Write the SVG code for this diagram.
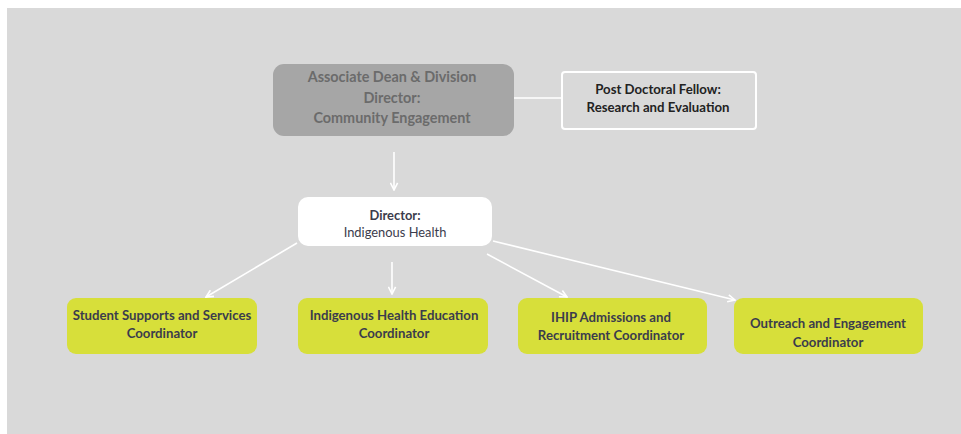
<svg xmlns="http://www.w3.org/2000/svg" width="961" height="434" viewBox="0 0 961 434">
<style>
.t{font-family:Lato,"Noto Sans",sans-serif;font-weight:bold;text-anchor:middle;dominant-baseline:central}
.y{fill:#d7df3a}
.yt{font-size:13.2px;fill:#3b3c4c}
.c{stroke:#ffffff;stroke-width:1.6;fill:none}
</style>
<defs>
<marker id="ah" viewBox="0 0 10 10" refX="9" refY="5" markerWidth="9" markerHeight="9" orient="auto" markerUnits="userSpaceOnUse">
<path d="M1,1 L9,5 L1,9" fill="none" stroke="#ffffff" stroke-width="1.8"/>
</marker>
</defs>
<rect x="0" y="0" width="961" height="434" fill="#ffffff"/>
<rect x="7" y="8" width="954" height="426" fill="#d9d9d9"/>
<g id="connectors">
<line class="c" x1="514" y1="98" x2="562" y2="98"/>
<line class="c" x1="394" y1="152" x2="394" y2="190" marker-end="url(#ah)"/>
<line class="c" x1="297" y1="243" x2="206" y2="297" marker-end="url(#ah)"/>
<line class="c" x1="392" y1="262" x2="392" y2="294" marker-end="url(#ah)"/>
<line class="c" x1="487" y1="254" x2="567" y2="297" marker-end="url(#ah)"/>
<line class="c" x1="493" y1="241" x2="735" y2="300" marker-end="url(#ah)"/>
</g>
<g id="assoc-dean">
<rect x="273" y="64" width="241" height="72" rx="11" fill="#a6a6a6"/>
<text class="t" x="392" y="76" font-size="14.4" fill="#6b6b6b">Associate Dean &amp; Division</text>
<text class="t" x="392" y="97" font-size="14.4" fill="#6b6b6b">Director:</text>
<text class="t" x="392" y="117" font-size="14.4" fill="#6b6b6b">Community Engagement</text>
</g>
<g id="postdoc">
<rect x="562" y="72" width="194" height="57" rx="3" fill="#d9d9d9" stroke="#ffffff" stroke-width="2"/>
<text class="t" x="658" y="89" font-size="13.2" fill="#222222">Post Doctoral Fellow:</text>
<text class="t" x="658" y="107" font-size="13.2" fill="#222222">Research and Evaluation</text>
</g>
<g id="director">
<rect x="298" y="197" width="194" height="49" rx="10" fill="#ffffff"/>
<text class="t" x="395" y="215" font-size="12.9" fill="#3b3c4c">Director:</text>
<text class="t" x="395" y="232" font-size="12.9" fill="#3b3c4c" style="font-weight:normal">Indigenous Health</text>
</g>
<g id="student-supports">
<rect class="y" x="67" y="298" width="190" height="56" rx="9"/>
<text class="t yt" x="162" y="315">Student Supports and Services</text>
<text class="t yt" x="162" y="333">Coordinator</text>
</g>
<g id="ih-education">
<rect class="y" x="298" y="298" width="190" height="56" rx="9"/>
<text class="t yt" x="394" y="315">Indigenous Health Education</text>
<text class="t yt" x="394" y="333">Coordinator</text>
</g>
<g id="ihip">
<rect class="y" x="518" y="298" width="189" height="56" rx="9"/>
<text class="t yt" x="611" y="317">IHIP Admissions and</text>
<text class="t yt" x="611" y="335">Recruitment Coordinator</text>
</g>
<g id="outreach">
<rect class="y" x="734" y="298" width="189" height="56" rx="9"/>
<text class="t yt" x="828" y="323">Outreach and Engagement</text>
<text class="t yt" x="828" y="342">Coordinator</text>
</g>
</svg>
